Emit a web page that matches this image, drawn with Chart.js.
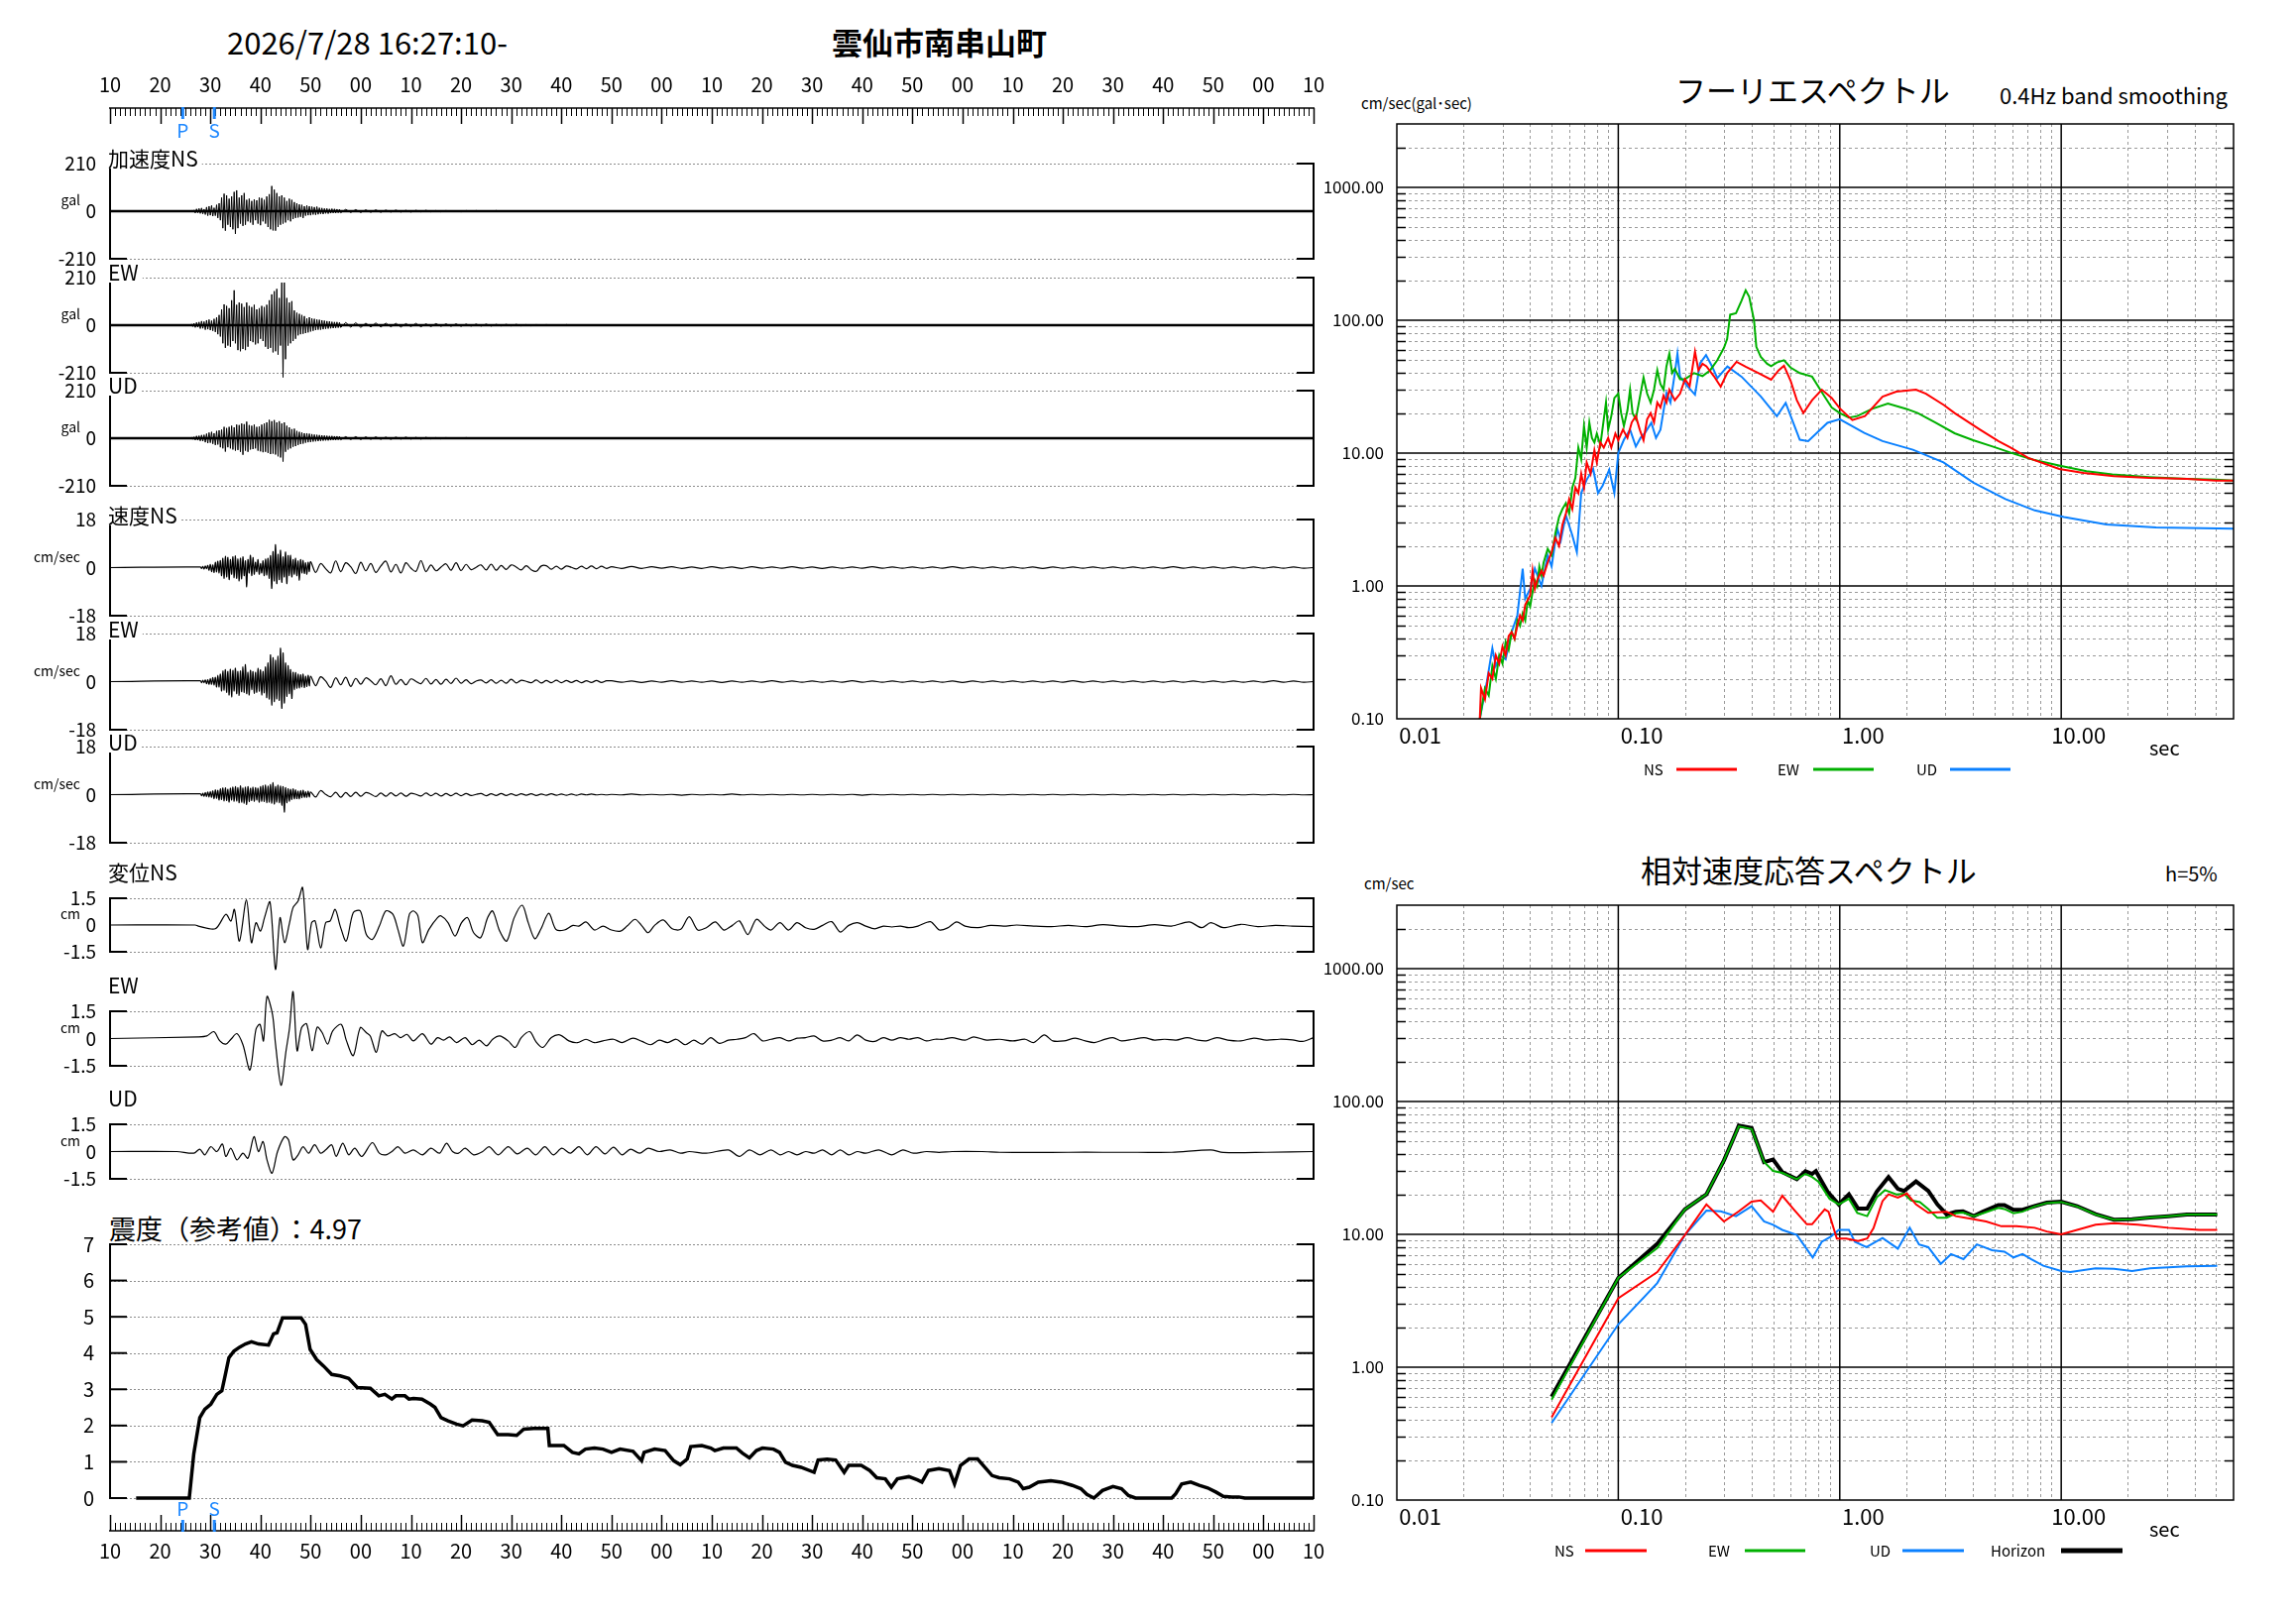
<!DOCTYPE html>
<html>
<head>
<meta charset="utf-8">
<script src="https://cdn.jsdelivr.net/npm/chart.js@4.4.1/dist/chart.umd.min.js"></script>
<style>
  body { margin: 0; background: #fff; width: 2316px; height: 1637px; overflow: hidden; position: relative; }
  canvas { position: absolute; }
  .t { position: absolute; white-space: nowrap; color: #000; line-height: 1; font-family: "Noto Sans CJK JP", "Noto Sans", sans-serif; }
</style>
</head>
<body>
<script>
// ---- time axis (seconds after 16:27:10) ----
const T_MAX = 240;
const TIME_LABELS = ["10","20","30","40","50","00","10","20","30","40","50","00","10","20","30","40","50","00","10","20","30","40","50","00","10"];
const P_TIME = 14.5;
const S_TIME = 20.8;

// ---- acceleration (gal), strong part sampled every 0.25 s from 16 s, tail every 1 s from 46 s ----
const ACC_NS = [0,3,-4,5, -8,10,-7,12, -10,14,-12,9, -15,18,-20,22, -18,25,-22,15, -20,28,-30,35,
  -40,60,-75,77, -86,70,-60,55, -70,65,-80,85, -100,92,-75,60, -55,70,-65,80, -60,50,-45,55,
  -50,45,-60,52, -40,48,-55,60, -62,58,-45,50, -55,65,-70,75, -80,111,-85,95, -86,80,-70,65,
  -60,70,-55,60, -50,45,-40,55, -45,50,-35,40, -30,35,-28,30, -25,28,-30,22, -20,25,-18,22,
  -18,20,-15,18, -16,20,-14,15, -12,14,-13,12, -10,12,-11,10, -9,11,-8,10, -8,9,-7,8];
const ACC_NS_TAIL = [-7,8,-6,7,-6,6,-5,6,-5,5,-4,5,-4,4,-4,4,-3,4,-3,3,-3,3,-2,2,-3,3,-2,3,-2,2,-2,3,-2,2,-2,2,-2,2,-2,2,-2,2,-1,2,-2,1,-1,2,-1,1,-1,1,-1,1];
const ACC_EW = [0,5,-6,8, -10,12,-9,14, -15,18,-14,16, -20,22,-18,25, -22,20,-25,28, -30,35,-40,45,
  -50,70,-80,92, -100,85,-90,75, -95,110,-70,154, -80,90,-110,100, -115,95,-105,80, -110,100,-95,85,
  -70,80,-75,90, -85,70,-80,75, -60,85,-70,80, -95,90,-105,110, -100,136,-120,150, -115,160,-130,120,
  -90,188,-230,188, -150,120,-90,100, -80,106,-70,65, -60,55,-45,50, -40,45,-38,40, -35,30,-32,35,
  -28,30,-25,28, -22,25,-20,24, -20,22,-18,20, -16,18,-15,17, -14,15,-13,14, -12,14,-11,12];
const ACC_EW_TAIL = [-10,12,-9,11,-10,9,-8,10,-8,9,-7,8,-8,7,-6,8,-7,6,-6,7,-5,6,-5,6,-5,5,-4,5,-4,5,-4,4,-3,4,-3,4,-3,3,-3,3,-2,3,-2,2,-2,3,-2,2,-2,2,-2,2,-1,2];
const ACC_UD = [0,4,-5,6, -8,10,-9,11, -12,14,-13,15, -18,20,-22,25, -20,28,-25,22, -30,32,-28,35,
  -40,38,-45,50, -59,45,-40,50, -45,55,-50,48, -55,60,-52,58, -60,65,-73,62, -55,73,-60,58,
  -50,55,-48,60, -45,50,-55,52, -58,60,-62,65, -60,70,-65,81, -70,75,-68,80, -72,70,-80,75,
  -85,65,-103,70, -60,55,-50,48, -45,40,-38,42, -35,32,-30,28, -26,25,-24,22, -20,22,-18,20,
  -17,18,-15,16, -14,15,-13,14, -12,13,-11,12, -10,11,-10,10, -9,10,-8,9, -8,9,-7,8];
const ACC_UD_TAIL = [-7,7,-6,7,-6,6,-5,6,-5,5,-5,5,-4,5,-4,4,-4,4,-3,3,-3,3,-2,2,-2,3,-2,2,-2,2,-2,2,-1,2];

// ---- velocity (cm/s): every 0.25 s from 18 s, every 1 s from 40 s, every 2 s from 100 s ----
const VEL_NS = [0.2,-0.3,0.4,-0.5, 0.6,-0.4,0.8,-1.0, 1.2,-1.5,1.0,-1.8, 2.0,-1.6,2.4,-2.0,
  2.6,-3.0,3.5,-4.0, 4.2,-3.5,3.8,-4.5, 3.0,-2.5,4.0,-3.8, 4.4,-4.0,3.2,-5.0, 3.5,-4.2,4.0,-3.0,
  2.5,-7.2,3.0,-2.0, 4.6,-3.0,3.8,-2.5, 2.0,-1.5,3.0,-2.5, 1.5,-2.0,2.5,-3.0, 3.2,-2.8,3.5,-4.0,
  4.5,-7.8,6.0,-5.0, 8.6,-6.0,5.0,-4.5, 6.5,-5.5,4.0,-3.5, 5.8,-6.0,4.5,-3.0, 4.6,-3.5,3.0,-2.5,
  3.5,-3.0,2.5,-4.7, 3.0,-2.0,2.7,-2.2, 1.8,-2.5,2.0,-1.5];
const VEL_NS_MID = [2.2,-1.8,1.5,-0.4,-2.0,2.5,-1.5,1.8,0.3,-2.2, 2.0,-1.2,1.5,-1.8,0.6,2.4,-1.6,1.2,-2.0,1.8,
  -0.2,-1.4,2.6,-1.5,1.0,-1.2,0.2,1.4,-1.0,1.8, -1.1,1.2,-0.8,0.1,1.0,-0.9,1.3,-1.0,0.8,-0.7,
  1.0,0.2,-0.9,0.7,-0.8,-1.4,0.6,0.7,-0.6,0.5, -0.6,0.6,0.1,-0.5,0.5,-0.4,0.6,-0.4,0.5,-0.3];
const VEL_NS_TAIL = [0.3,-0.3,0.4,-0.3,0.3,-0.2,0.3,-0.3,0.2,-0.3,0.3,-0.2,0.2,-0.3,0.3,-0.2,0.2,-0.2,0.3,-0.2,
  0.2,-0.3,0.2,-0.2,0.2,-0.2,0.3,-0.2,0.2,-0.2,0.2,-0.2,0.2,-0.2,0.3,-0.2,0.2,-0.2,0.2,-0.2,
  0.2,-0.2,0.2,-0.3,0.2,-0.2,0.2,-0.2,0.2,-0.2,0.2,-0.2,0.2,-0.2,0.2,-0.2,0.3,-0.2,0.2,-0.2,
  0.2,-0.2,0.2,-0.2,0.2,-0.2,0.2,-0.2,0.2,-0.2];
const VEL_EW = [0.3,-0.4,0.5,-0.4, 0.6,-0.8,0.7,-1.0, 1.2,-1.0,1.5,-1.3, 1.6,-2.0,2.4,-2.0,
  2.8,-3.5,4.0,-3.2, 4.5,-4.0,3.8,-5.0, 4.6,-5.7,4.2,-3.5, 5.0,-4.5,3.8,-5.2, 4.0,-3.8,5.5,-4.0,
  6.4,-4.5,3.5,-5.0, 4.2,-3.0,3.8,-4.4, 3.5,-4.0,5.0,-3.6, 4.4,-5.0,3.8,-4.2, 5.5,-6.0,7.0,-6.5,
  10.0,-8.8,9.0,-7.5, 8.0,-6.5,9.5,-7.0, 12.5,-10.0,10.7,-8.0, 7.0,-5.5,6.0,-4.5, 4.5,-6.3,3.5,-3.0,
  3.4,-2.5,2.8,-2.4, 2.6,-2.0,2.8,-2.2, 2.0,-1.8,2.4,-1.6];
const VEL_EW_MID = [2.0,-1.5,1.8,0.2,-2.2,1.4,-1.2,1.6,-1.8,1.2, -1.0,1.4,0.3,-1.2,1.1,-1.5,2.2,-1.0,0.8,-1.2,
  1.0,0.1,-0.8,1.2,-0.9,0.8,-1.0,0.9,-0.7,1.3, -0.6,0.7,-0.8,0.2,0.6,-0.5,0.7,-0.6,0.5,-0.6,
  0.9,-0.5,0.5,0.1,-0.4,0.6,-0.5,0.4,-0.4,0.5, -0.4,0.4,-0.3,0.4,-0.4,0.3,-0.3,0.4,-0.3,0.3];
const VEL_EW_TAIL = [0.3,-0.2,0.2,-0.3,0.2,-0.2,0.3,-0.2,0.2,-0.2,0.2,-0.3,0.2,-0.2,0.2,-0.2,0.3,-0.2,0.2,-0.2,
  0.2,-0.2,0.2,-0.2,0.3,-0.2,0.2,-0.2,0.2,-0.2,0.2,-0.2,0.2,-0.2,0.2,-0.3,0.2,-0.2,0.2,-0.2,
  0.2,-0.2,0.2,-0.2,0.2,-0.2,0.3,-0.2,0.2,-0.2,0.2,-0.2,0.2,-0.2,0.2,-0.2,0.2,-0.2,0.2,-0.2,
  0.2,-0.2,0.2,-0.2,0.2,-0.2,0.3,-0.2,0.2,-0.2];
const VEL_UD = [0.3,-0.4,0.5,-0.6, 0.8,-0.7,1.0,-0.9, 1.2,-1.0,1.4,-1.5, 1.8,-1.4,1.6,-2.0,
  2.2,-1.8,2.5,-2.4, 2.6,-2.2,2.0,-2.8, 2.4,-2.0,2.8,-2.5, 3.0,-2.4,2.6,-3.0, 3.3,-2.8,2.5,-3.2,
  2.8,-3.7,3.0,-2.6, 2.4,-2.2,2.8,-2.5, 2.6,-2.0,2.4,-2.8, 3.0,-2.5,3.4,-2.6, 3.6,-3.0,3.2,-2.8,
  3.8,-3.2,4.5,-3.5, 3.0,-2.8,3.6,-3.0, 3.2,-4.0,3.0,-6.5, 2.6,-3.0,2.2,-2.5, 2.0,-1.8,2.2,-1.6,
  1.8,-1.5,1.4,-1.6, 1.5,-1.2,1.6,-1.0, 1.2,-1.0,1.4,-0.9];
const VEL_UD_MID = [1.0,-0.9,1.5,0.1,-0.8,0.9,-1.0,0.8,-0.7,0.9, -0.6,0.8,0.2,-0.7,0.6,-0.6,0.7,-0.5,0.6,-0.6,
  0.5,0.1,-0.5,0.6,-0.4,0.5,-0.5,0.4,-0.4,0.5, -0.4,0.4,-0.3,0.1,0.4,-0.4,0.3,-0.3,0.4,-0.3,
  0.3,-0.3,0.3,-0.2,0.3,-0.3,0.2,-0.2,0.3,-0.2, 0.2,-0.2,0.2,-0.2,0.2,-0.1,0.2,-0.1,0.1,-0.1];
const VEL_UD_TAIL = [0.1,-0.1,0.2,-0.1,0.1,-0.1,0.1,-0.2,0.1,-0.1,0.1,-0.1,0.2,-0.1,0.1,-0.1,0.1,-0.1,0.1,-0.1,
  0.1,-0.1,0.1,-0.1,0.1,-0.2,0.1,-0.1,0.1,-0.1,0.1,-0.1,0.1,-0.1,0.1,-0.1,0.1,-0.1,0.1,-0.1,
  0.1,-0.1,0.1,-0.1,0.1,-0.1,0.1,-0.1,0.1,-0.1,0.1,-0.1,0.1,-0.1,0.1,-0.1,0.1,-0.1,0.1,-0.1,
  0.1,-0.1,0.1,-0.1,0.1,-0.1,0.1,-0.1,0.1,-0.1];

// ---- displacement (cm): [seconds, value] ----
const DISP_NS = [[0,0],[17,0],[17.6,-0.06],[21.0,-0.21],[23.1,0.60],[24.1,0.22],[24.8,0.88],[25.8,-0.90],[27.2,1.41],[28.2,-0.99],[29.1,0.13],[30.0,-0.34],[30.8,0.41],[31.9,1.29],[33.0,-2.49],[33.9,0.41],[34.8,-0.99],[35.8,0.13],[36.5,0.98],[37.5,1.35],[38.4,2.10],[39.4,-1.37],[40.2,0.13],[40.9,0.23],[42.0,-1.28],[43.0,0.13],[43.9,0.23],[44.9,0.88],[45.9,-0.06],[47.1,-0.90],[48.5,0.69],[49.9,0.79],[51.1,-0.53],[52.3,-0.81],[53.7,-0.06],[55.0,0.79],[56.4,0.60],[57.4,-0.24],[58.5,-1.18],[59.7,0.60],[60.5,0.79],[61.4,0.51],[62.3,-0.99],[63.6,-0.24],[65.3,0.41],[66.0,0.51],[67.4,0.13],[68.8,-0.62],[70.1,0.13],[71.3,0.41],[72.5,-0.43],[73.9,-0.71],[75.3,0.41],[76.3,0.79],[77.7,-0.34],[79.1,-0.90],[80.6,0.41],[82.2,1.11],[83.4,0.13],[84.7,-0.77],[85.9,-0.24],[87.5,0.66],[88.9,-0.24],[90.6,-0.28],[92.3,-0.02],[93.5,-0.06],[94.9,0.17],[96.6,-0.28],[98.3,-0.06],[100.0,-0.28],[101.8,-0.34],[103.1,-0.06],[104.7,0.32],[106.1,-0.06],[107.3,-0.43],[108.6,-0.02],[110.3,0.28],[112.1,-0.21],[113.8,-0.24],[115.5,0.47],[117.2,-0.28],[118.9,-0.15],[120.7,0.17],[122.4,-0.28],[124.1,-0.02],[125.5,0.23],[127.2,-0.53],[128.9,0.32],[130.6,-0.09],[131.8,-0.28],[133.6,0.13],[135.3,-0.28],[137.0,0.13],[138.7,-0.15],[140.4,-0.24],[142.1,-0.02],[143.9,0.19],[145.6,-0.39],[147.3,-0.02],[149.0,0.13],[150.7,-0.06],[152.5,-0.21],[154.2,-0.06],[155.9,-0.11],[157.6,-0.06],[159.3,-0.15],[161.1,-0.06],[163.6,0.19],[165.4,-0.28],[167.1,-0.15],[168.8,0.17],[170.5,-0.06],[173.1,-0.15],[175.6,-0.02],[178.2,-0.06],[180.8,0],[184.2,-0.06],[187.7,-0.09],[191.1,-0.02],[194.6,-0.09],[198.0,0.02],[201.4,-0.06],[204.9,-0.09],[208.3,0.02],[211.7,-0.06],[215.2,0.17],[217.7,-0.15],[219.5,0.13],[222.0,-0.15],[225.5,0.04],[228.9,-0.09],[232.4,-0.02],[235.8,-0.06],[240,-0.09]];
const DISP_EW = [[0,0],[17.6,0.09],[19.3,0.14],[20.7,0.38],[21.9,-0.13],[23.1,-0.31],[24.1,-0.04],[25.3,0.27],[26.5,-0.34],[27.9,-1.73],[29.1,0.51],[29.9,0.78],[30.6,-0.13],[31.3,2.31],[32.4,1.32],[33.0,-0.31],[34.1,-2.57],[35.1,-0.67],[35.8,0.60],[36.5,2.58],[37.3,-0.67],[38.2,0.60],[39.2,0.81],[40.3,-0.67],[41.3,0.63],[42.3,0.33],[43.4,-0.31],[44.4,0.42],[46.1,0.78],[47.1,-0.09],[48.5,-0.94],[49.9,0.60],[51.1,0.33],[51.9,0.14],[53.1,-0.76],[54.2,0.42],[55.4,0.14],[56.8,0.27],[57.9,0.05],[59.2,0.23],[60.5,-0.13],[62.3,0.27],[64.0,-0.31],[65.3,0.05],[66.5,-0.09],[67.7,0.09],[69.1,-0.22],[70.8,0.05],[72.2,-0.34],[73.6,-0.09],[75.1,-0.40],[76.3,-0.04],[77.7,0.14],[79.4,-0.13],[80.8,-0.49],[82.0,0.05],[83.7,0.38],[84.9,-0.16],[86.3,-0.49],[88.0,0.05],[89.7,0.20],[91.5,-0.13],[93.2,-0.23],[94.9,-0.04],[96.6,-0.23],[98.3,-0.13],[100.4,-0.04],[102.1,-0.22],[104.3,0.02],[106.1,-0.16],[107.8,-0.34],[109.5,-0.09],[111.2,-0.22],[112.9,-0.04],[114.7,-0.34],[116.4,-0.09],[118.1,-0.31],[119.8,0.05],[121.5,-0.27],[123.3,-0.09],[125.0,-0.04],[126.7,0.05],[128.4,0.27],[130.1,-0.13],[131.8,-0.04],[133.6,0.05],[135.3,-0.13],[137.0,0.02],[138.7,0.05],[140.4,0.14],[142.1,-0.13],[143.9,-0.09],[145.6,0.05],[147.3,-0.13],[149.0,0.20],[150.7,-0.09],[152.5,-0.16],[154.2,0.05],[155.9,-0.09],[157.6,0.05],[159.3,-0.04],[161.1,0.05],[162.8,-0.13],[164.5,-0.04],[166.2,-0.04],[167.9,0.05],[170.5,-0.09],[172.2,0.09],[174.8,-0.09],[177.4,-0.04],[180.0,-0.13],[182.5,-0.04],[184.2,-0.22],[186.3,0.20],[188.0,-0.13],[190.2,-0.13],[192.5,0.02],[194.5,-0.13],[196.3,-0.22],[198.3,-0.05],[200.0,0.05],[201.7,-0.13],[204.0,-0.04],[206.2,0.05],[208.3,-0.09],[210.3,-0.04],[212.6,-0.09],[214.8,0.05],[216.9,-0.09],[218.6,-0.13],[220.7,0.05],[222.9,-0.09],[225.5,-0.13],[228.1,0.02],[230.6,-0.09],[233.2,-0.04],[235.8,-0.07],[237.8,-0.16],[240,0.05]];
const DISP_UD = [[0,0],[13.3,0],[16.7,-0.09],[17.9,0.13],[18.9,-0.18],[20.1,0.27],[21.3,0],[22.4,0.42],[23.1,-0.27],[24.1,0.18],[25.3,-0.46],[26.5,-0.09],[27.5,-0.37],[28.7,0.82],[29.6,0],[30.5,0.55],[31.3,-0.46],[32.3,-1.19],[33.4,0],[34.8,0.82],[35.6,0.64],[36.5,-0.46],[37.5,-0.18],[38.5,0.27],[39.6,-0.09],[40.8,0.37],[42.0,-0.09],[43.0,0.09],[44.2,0.37],[45.1,-0.27],[46.4,0.46],[47.6,-0.18],[48.8,0.18],[50.2,-0.27],[52.3,0.49],[53.7,-0.09],[55.0,-0.18],[56.2,0],[57.4,0.27],[58.8,-0.09],[60.5,0.09],[62.3,-0.18],[64.0,0.18],[65.7,-0.09],[67.1,0.46],[68.3,0],[69.5,-0.09],[70.8,0.18],[72.5,-0.18],[74.3,0],[75.6,0.27],[77.4,-0.18],[79.4,0.27],[81.2,-0.13],[83.2,0.18],[84.9,-0.18],[86.7,0.27],[88.4,-0.18],[90.1,0.18],[91.8,-0.09],[93.5,0.27],[95.2,-0.18],[96.9,0.27],[98.7,-0.13],[100.4,0.24],[102.1,-0.18],[103.8,0.13],[105.6,-0.09],[107.3,0.18],[109.5,0],[111.7,0.09],[113.8,-0.09],[115.5,0],[118.9,-0.09],[123.3,0.09],[125.5,-0.27],[127.5,0.09],[129.6,-0.18],[131.8,0.09],[133.6,-0.18],[135.3,0],[137.0,-0.18],[138.7,0],[140.4,-0.09],[142.1,0.09],[143.9,-0.18],[145.6,0.09],[147.3,-0.18],[149.0,0],[150.7,-0.09],[153.3,0.09],[155.9,-0.18],[158.1,0.09],[160.2,-0.09],[162.8,0],[165.3,-0.05],[167.9,0],[173.9,0],[177.4,-0.04],[184.2,-0.05],[191.1,-0.04],[198.0,-0.04],[204.9,-0.04],[211.7,-0.04],[219.5,0.09],[222.0,-0.05],[230.6,-0.04],[240,0]];

// ---- seismic intensity (reference value) ----
const SHINDO = [[5.2,0],[15.8,0],[16.7,1.22],[17.9,2.22],[18.9,2.45],[20.1,2.59],[21.3,2.86],[22.3,2.96],[23.0,3.41],[23.7,3.87],[24.7,4.05],[25.8,4.16],[27.0,4.25],[28.2,4.31],[29.6,4.25],[31.6,4.22],[32.6,4.53],[33.3,4.56],[34.4,4.97],[38.1,4.97],[39.0,4.79],[39.9,4.10],[41.2,3.82],[42.6,3.64],[44.2,3.41],[45.9,3.37],[47.6,3.30],[49.3,3.05],[51.9,3.03],[53.6,2.82],[54.8,2.86],[56.2,2.73],[57.0,2.82],[58.8,2.82],[59.6,2.73],[60.5,2.75],[62.2,2.73],[63.9,2.59],[64.8,2.50],[66.0,2.22],[67.4,2.13],[69.1,2.04],[70.4,1.99],[72.2,2.15],[74.2,2.13],[75.6,2.09],[77.3,1.75],[79.4,1.75],[81.1,1.73],[82.5,1.90],[84.5,1.92],[87.3,1.92],[87.6,1.45],[90.5,1.45],[92.2,1.26],[93.5,1.22],[94.8,1.35],[96.6,1.38],[98.3,1.35],[100.0,1.26],[101.7,1.35],[104.3,1.29],[106.0,1.03],[106.5,1.26],[108.6,1.35],[110.7,1.31],[112.4,1.03],[113.7,0.92],[115.1,1.08],[115.8,1.42],[118.0,1.45],[119.8,1.38],[120.6,1.31],[122.3,1.38],[124.9,1.38],[126.1,1.24],[127.5,1.11],[128.9,1.31],[130.1,1.38],[132.3,1.35],[133.5,1.26],[134.7,0.99],[136.1,0.90],[137.8,0.85],[140.4,0.71],[141.2,1.05],[143.0,1.07],[144.7,1.05],[146.4,0.71],[147.3,0.90],[149.8,0.90],[151.5,0.76],[152.9,0.56],[154.6,0.53],[155.8,0.30],[157.0,0.53],[159.3,0.59],[161.0,0.50],[161.9,0.44],[163.2,0.76],[165.3,0.81],[167.4,0.76],[168.4,0.39],[169.6,0.90],[171.3,1.08],[173.0,1.08],[174.7,0.81],[175.9,0.62],[177.3,0.56],[179.4,0.53],[181.1,0.44],[182.1,0.26],[183.3,0.30],[185.1,0.44],[187.6,0.48],[189.7,0.44],[191.9,0.35],[193.6,0.26],[194.8,0.10],[196.2,0],[197.9,0.21],[200.0,0.32],[201.7,0.26],[203.1,0.07],[204.5,0],[211.7,0],[212.5,0.12],[213.7,0.39],[215.5,0.44],[217.2,0.35],[218.9,0.28],[220.6,0.16],[222.0,0.05],[223.7,0.03],[225.1,0.03],[226.3,0],[240,0]];

// ---- Fourier spectrum [period s, cm/s] ----
const FOURIER_NS = [[0.0237,0.1],[0.024,0.17],[0.025,0.14],[0.026,0.22],[0.027,0.2],[0.028,0.3],[0.029,0.26],[0.03,0.35],[0.031,0.3],[0.032,0.42],[0.033,0.45],[0.034,0.4],[0.035,0.5],[0.036,0.6],[0.037,0.55],[0.038,0.72],[0.04,0.85],[0.041,1.3],[0.042,0.95],[0.043,1.1],[0.045,1.3],[0.046,1.2],[0.048,1.5],[0.05,1.8],[0.052,2.3],[0.054,2.0],[0.056,2.9],[0.058,3.5],[0.06,4.5],[0.062,3.8],[0.064,5.5],[0.066,5.0],[0.068,7.0],[0.07,5.5],[0.072,8.5],[0.075,7.0],[0.078,10.5],[0.08,8.5],[0.083,12],[0.086,11],[0.09,13],[0.093,11],[0.097,14],[0.1,12.5],[0.105,15],[0.11,13],[0.115,17],[0.12,19],[0.125,15],[0.13,12.5],[0.135,18],[0.14,20],[0.145,17],[0.15,24],[0.155,22],[0.16,27],[0.165,24],[0.17,30],[0.18,25],[0.19,28],[0.2,36],[0.21,32],[0.222,58],[0.23,42],[0.24,47],[0.25,45],[0.27,38],[0.29,31.6],[0.31,40],[0.342,48.6],[0.376,44.6],[0.43,40],[0.49,35.7],[0.53,42],[0.56,45.4],[0.6,35],[0.64,25],[0.685,20],[0.75,25],[0.83,30],[0.92,26],[1.0,21.7],[1.14,17.7],[1.3,19],[1.56,26.6],[1.8,29],[2.21,30],[2.45,28],[2.95,23],[3.3,20],[4.3,15],[5.2,12.3],[5.9,11],[7.1,9.2],[9.8,7.6],[12.6,7.1],[17.3,6.7],[25,6.5],[37,6.4],[50,6.2],[60,6.2]];
const FOURIER_EW = [[0.0237,0.1],[0.025,0.17],[0.026,0.15],[0.027,0.25],[0.028,0.2],[0.029,0.3],[0.03,0.26],[0.031,0.38],[0.032,0.33],[0.033,0.45],[0.034,0.4],[0.035,0.55],[0.036,0.5],[0.037,0.62],[0.038,0.55],[0.039,0.78],[0.04,0.7],[0.041,0.9],[0.042,1.1],[0.043,1.0],[0.044,1.4],[0.045,1.2],[0.046,1.5],[0.048,1.9],[0.05,1.7],[0.052,2.5],[0.054,3.3],[0.056,3.8],[0.058,4.2],[0.06,3.5],[0.062,5.5],[0.064,6.5],[0.066,11],[0.068,9],[0.07,16],[0.072,11],[0.074,17],[0.076,13],[0.078,12],[0.08,14],[0.083,11.5],[0.086,18],[0.088,24],[0.09,15],[0.093,19],[0.096,26],[0.1,28],[0.103,20],[0.106,16],[0.11,21],[0.113,30],[0.116,20],[0.12,18],[0.125,26],[0.13,37],[0.135,28],[0.14,24],[0.145,30],[0.15,42],[0.155,33],[0.16,30],[0.165,45],[0.17,56],[0.175,40],[0.18,43],[0.19,36],[0.2,36],[0.22,40],[0.24,38],[0.26,42],[0.28,50],[0.3,62],[0.31,72],[0.32,110],[0.34,113],[0.36,140],[0.376,168],[0.39,150],[0.41,100],[0.42,63],[0.44,53],[0.47,47],[0.49,45],[0.52,48],[0.56,50],[0.6,44],[0.66,40],[0.75,37.6],[0.85,27],[0.92,22],[1.0,20],[1.1,18.5],[1.2,19],[1.4,21.5],[1.65,23.6],[2.0,21.5],[2.25,20],[2.7,17],[3.3,14.1],[4.0,12.5],[4.9,11.2],[6.2,9.8],[7.5,8.9],[10,8.0],[13,7.3],[17,6.9],[25,6.6],[37,6.4],[50,6.3],[60,6.2]];
const FOURIER_UD = [[0.0237,0.1],[0.0255,0.19],[0.027,0.34],[0.028,0.25],[0.0293,0.3],[0.031,0.28],[0.033,0.45],[0.035,0.6],[0.037,1.35],[0.038,0.8],[0.04,0.95],[0.042,1.35],[0.045,1.0],[0.048,1.7],[0.05,1.4],[0.053,2.7],[0.055,2.2],[0.058,3.4],[0.062,2.4],[0.065,1.8],[0.068,5],[0.072,6.3],[0.077,7.6],[0.081,5.0],[0.085,5.7],[0.091,7.5],[0.096,5.0],[0.1,10],[0.106,12.6],[0.113,15],[0.12,11.2],[0.126,13],[0.132,14.2],[0.141,16.9],[0.148,13],[0.155,15],[0.165,28.3],[0.172,24],[0.18,39.9],[0.185,56],[0.19,37.6],[0.206,31.7],[0.222,27.5],[0.234,47.4],[0.249,54.7],[0.265,45],[0.28,36.6],[0.311,44.8],[0.36,37.6],[0.44,26.7],[0.52,18.9],[0.57,23.8],[0.66,12.6],[0.72,12.3],[0.88,16.9],[1.0,18.0],[1.29,14.2],[1.56,12.3],[2.14,10.6],[2.94,8.5],[4.0,6.0],[5.6,4.5],[7.6,3.7],[10.3,3.3],[16,2.9],[26.8,2.76],[60,2.7]];

// ---- relative velocity response spectrum h=5% [period s, cm/s] ----
const RESP_NS = [[0.05,0.42],[0.1,3.3],[0.15,5.2],[0.2,9.9],[0.25,16.8],[0.3,12.5],[0.35,14.9],[0.4,17.6],[0.44,18],[0.5,14.8],[0.55,19.5],[0.62,15.4],[0.71,11.9],[0.75,11.9],[0.855,15.4],[0.89,14.8],[0.97,9.3],[1.07,9.3],[1.21,8.9],[1.33,9.3],[1.42,11.1],[1.56,17.8],[1.66,20],[1.83,18.9],[2.01,20.3],[2.21,16.8],[2.51,14.5],[3.04,14.8],[3.34,13.7],[3.91,13.1],[4.58,12.5],[5.37,11.5],[6.28,11.5],[7.59,11.2],[8.61,10.5],[10,10],[11.8,10.8],[14.3,11.8],[17.3,12.1],[22.2,11.8],[30.5,11.2],[41.9,10.8],[50.6,10.8]];
const RESP_EW = [[0.05,0.57],[0.1,4.7],[0.15,7.9],[0.2,15.4],[0.25,20],[0.3,36],[0.35,65],[0.4,62],[0.455,35],[0.5,30],[0.55,29],[0.64,26],[0.7,28.5],[0.75,27],[0.8,25],[0.9,18.5],[0.99,16.8],[1.1,18.5],[1.2,14.5],[1.33,13.7],[1.47,19],[1.6,21.5],[1.8,20],[1.95,20.2],[2.1,18],[2.3,17.5],[2.51,15.5],[2.76,13.3],[3.04,13.3],[3.34,14.4],[3.6,14.6],[4.03,13.7],[4.43,14.4],[5.2,15.8],[5.54,15.5],[6.09,14.4],[6.69,14.8],[7.59,16.2],[8.61,17.2],[10,17.5],[11.8,16.2],[14.3,14.1],[17.3,12.9],[20.9,13],[25.2,13.4],[30.5,13.7],[36.9,14.1],[50.6,14.1]];
const RESP_UD = [[0.05,0.38],[0.1,2.1],[0.15,4.3],[0.2,9.9],[0.25,15.1],[0.29,14.9],[0.34,13.7],[0.4,16.3],[0.455,12.5],[0.5,11.8],[0.55,10.8],[0.64,9.9],[0.755,6.7],[0.83,8.8],[0.91,9.6],[0.99,10.8],[1.1,10.8],[1.17,8.8],[1.32,8.0],[1.56,9.4],[1.83,7.8],[2.07,11.2],[2.28,8.4],[2.51,8.0],[2.86,6.0],[3.18,7.1],[3.62,6.5],[4.16,8.4],[4.87,7.6],[5.54,7.4],[6.09,6.7],[6.69,7.1],[7.33,6.5],[8.3,5.8],[10,5.3],[11,5.2],[14.3,5.55],[17.3,5.5],[20.9,5.3],[25.2,5.55],[36.9,5.75],[50.6,5.8]];
const RESP_H = [[0.05,0.60],[0.1,4.7],[0.15,8.5],[0.2,15.4],[0.25,20],[0.3,36],[0.33,52],[0.35,65.8],[0.4,63],[0.455,35],[0.5,36.6],[0.55,29.4],[0.64,26],[0.7,29.9],[0.75,28.5],[0.78,29.9],[0.88,21],[0.99,16.8],[1.1,20],[1.21,15.6],[1.33,15.6],[1.47,21],[1.66,27],[1.83,22],[1.95,21.2],[2.21,25],[2.51,21.2],[2.76,16.8],[3.04,14.1],[3.34,14.8],[3.6,14.9],[4.03,13.7],[4.43,14.8],[5.2,16.6],[5.54,16.6],[6.09,15.3],[6.69,15.3],[7.59,16.3],[8.61,17.3],[10,17.6],[11.8,16.3],[14.3,14.2],[17.3,12.9],[20.9,13],[25.2,13.4],[30.5,13.7],[36.9,14.1],[50.6,14.1]];

const X_DECADES = [0.01, 0.1, 1, 10];
const X_TICK_LABELS = ["0.01", "0.10", "1.00", "10.00"];
const Y_DECADES = [0.1, 1, 10, 100, 1000];
const Y_TICK_LABELS = ["0.10", "1.00", "10.00", "100.00", "1000.00"];
const MINOR = [2, 3, 4, 5, 6, 7, 8, 9];

// ---------------------------------------------------------------
const FONT = '"Noto Sans CJK JP", "Noto Sans", sans-serif';
const RED = "#ff0000", GREEN = "#00b000", BLUE = "#0a80ff", PSBLUE = "#1e88ff";

function seg(ctx, x1, y1, x2, y2) { ctx.beginPath(); ctx.moveTo(x1, y1); ctx.lineTo(x2, y2); ctx.stroke(); }

function addText(txt, x, cy, size, extra) {
  const d = document.createElement("div");
  d.className = "t";
  d.textContent = txt;
  d.style.left = x + "px";
  d.style.top = (cy - size * 0.52) + "px";
  d.style.fontSize = size + "px";
  if (extra) Object.assign(d.style, extra);
  document.body.appendChild(d);
}

function makeCanvas(area, pad) {
  const c = document.createElement("canvas");
  const w = area.w + pad.l + pad.r, h = area.h + pad.t + pad.b;
  c.width = w; c.height = h;
  c.style.left = (area.x - pad.l) + "px";
  c.style.top = (area.y - pad.t) + "px";
  c.style.width = w + "px"; c.style.height = h + "px";
  document.body.appendChild(c);
  return c;
}

function burst(t0, dt, vals) { return vals.map((v, i) => ({ x: t0 + i * dt, y: v })); }
function trace(parts) {
  const pts = [{ x: 0, y: 0 }];
  parts.forEach(p => pts.push(...p));
  pts.push({ x: T_MAX, y: 0 });
  return pts;
}
function pairs(arr) { return arr.map(([x, y]) => ({ x, y })); }

// waveform / intensity panel frame, dotted limits, brackets and labels
const wavePlugin = {
  id: "wave",
  beforeDatasetsDraw(chart, args, o) {
    const { ctx, chartArea: a, scales: { y } } = chart;
    ctx.save();
    ctx.strokeStyle = "#8c8c8c"; ctx.lineWidth = 1; ctx.setLineDash([2, 2]);
    o.grid.forEach(v => { const py = Math.round(y.getPixelForValue(v)) + 0.5; seg(ctx, a.left, py, a.right, py); });
    ctx.setLineDash([]);
    if (o.zeroWidth) {
      ctx.strokeStyle = "#000"; ctx.lineWidth = o.zeroWidth;
      const py = y.getPixelForValue(0); seg(ctx, a.left, py, a.right, py);
    }
    ctx.restore();
  },
  afterDatasetsDraw(chart, args, o) {
    const { ctx, chartArea: a, scales: { y } } = chart;
    const top = y.getPixelForValue(o.grid[0]), bot = y.getPixelForValue(o.grid[o.grid.length - 1]);
    ctx.save();
    ctx.strokeStyle = "#000"; ctx.lineWidth = 2;
    seg(ctx, a.left, top, a.left, bot);
    seg(ctx, a.right, top, a.right, bot);
    o.grid.forEach(v => {
      const py = y.getPixelForValue(v);
      seg(ctx, a.left - 1, py, a.left + 17, py);
      seg(ctx, a.right - 17, py, a.right + 1, py);
    });
    ctx.fillStyle = "#000"; ctx.textAlign = "right"; ctx.textBaseline = "middle";
    ctx.font = `${o.tickSize}px ${FONT}`;
    o.ticks.forEach((v, i) => ctx.fillText(o.tickText[i], a.left - o.tickGap, y.getPixelForValue(v)));
    if (o.unit) {
      ctx.font = `14px ${FONT}`;
      ctx.fillText(o.unit, a.left - 30, y.getPixelForValue(0) - 11);
    }
    if (o.name) {
      ctx.font = `21px ${FONT}`; ctx.textAlign = "left";
      const w = ctx.measureText(o.name).width;
      const ny = top + o.nameDy;
      ctx.fillStyle = "#fff"; ctx.fillRect(a.left - 2, ny - 11, w + 4, 21);
      ctx.fillStyle = "#000"; ctx.fillText(o.name, a.left - 2, ny);
    }
    ctx.restore();
  }
};

const LEFT = 111, RIGHT = 1325;

function wavePanel(top, h, data, o) {
  const area = { x: LEFT, y: top, w: RIGHT - LEFT, h };
  const pad = { l: LEFT, r: 30, t: 42, b: 30 };
  const cv = makeCanvas(area, pad);
  return new Chart(cv, {
    type: "line",
    data: { datasets: [{ data, borderColor: "#000", borderWidth: o.lw, pointRadius: 0, tension: o.smooth || 0, fill: false, clip: false }] },
    options: {
      responsive: false, animation: false, events: [],
      layout: { padding: { left: pad.l, right: pad.r, top: pad.t, bottom: pad.b } },
      scales: {
        x: { type: "linear", min: 0, max: T_MAX, display: false },
        y: { type: "linear", min: o.min, max: o.max, display: false }
      },
      plugins: { legend: { display: false }, tooltip: { enabled: false }, wave: o }
    },
    plugins: [wavePlugin]
  });
}

// time ruler with P / S marks
const rulerPlugin = {
  id: "ruler",
  afterDraw(chart, args, o) {
    const { ctx, chartArea: a, scales: { x } } = chart;
    const base = o.up ? a.bottom : a.top, dir = o.up ? -1 : 1;
    ctx.save();
    ctx.strokeStyle = "#000"; ctx.lineWidth = 1.5;
    seg(ctx, x.getPixelForValue(0) - 1, base, x.getPixelForValue(T_MAX) + 1, base);
    for (let s = 0; s <= T_MAX; s++) {
      const px = Math.round(x.getPixelForValue(s)) + 0.5;
      const major = s % 10 === 0;
      ctx.lineWidth = major ? 1.5 : 1;
      seg(ctx, px, base, px, base + dir * (major ? 16 : 8));
    }
    ctx.fillStyle = "#000"; ctx.font = `20px ${FONT}`; ctx.textAlign = "center"; ctx.textBaseline = "middle";
    TIME_LABELS.forEach((lab, i) => ctx.fillText(lab, x.getPixelForValue(i * 10), base + o.labelDy));
    ctx.strokeStyle = PSBLUE; ctx.fillStyle = PSBLUE; ctx.lineWidth = 3;
    ctx.font = `19px ${FONT}`;
    [["P", P_TIME], ["S", S_TIME]].forEach(([k, t]) => {
      const px = x.getPixelForValue(t);
      seg(ctx, px, base - dir, px, base + dir * 11);
      ctx.fillText(k, px, base + o.letterDy);
    });
    ctx.restore();
  }
};

function ruler(top, o) {
  const area = { x: LEFT, y: top, w: RIGHT - LEFT, h: 16 };
  const pad = { l: 40, r: 40, t: 40, b: 40 };
  const cv = makeCanvas(area, pad);
  return new Chart(cv, {
    type: "line",
    data: { datasets: [] },
    options: {
      responsive: false, animation: false, events: [],
      layout: { padding: { left: pad.l, right: pad.r, top: pad.t, bottom: pad.b } },
      scales: { x: { type: "linear", min: 0, max: T_MAX, display: false }, y: { display: false } },
      plugins: { legend: { display: false }, tooltip: { enabled: false }, ruler: o }
    },
    plugins: [rulerPlugin]
  });
}

// log-log spectrum panel
const specPlugin = {
  id: "spec",
  beforeDatasetsDraw(chart, args, o) {
    const { ctx, chartArea: a, scales: { x, y } } = chart;
    ctx.save();
    const xs = [], ys = [];
    X_DECADES.forEach(d => MINOR.forEach(m => { if (d * m < x.max) xs.push(d * m); }));
    Y_DECADES.forEach(d => MINOR.forEach(m => { if (d * m < y.max) ys.push(d * m); }));
    ctx.strokeStyle = "#9a9a9a"; ctx.lineWidth = 1; ctx.setLineDash([3, 3]);
    xs.forEach(v => { const px = Math.round(x.getPixelForValue(v)) + 0.5; seg(ctx, px, a.top, px, a.bottom); });
    ys.forEach(v => { const py = Math.round(y.getPixelForValue(v)) + 0.5; seg(ctx, a.left, py, a.right, py); });
    ctx.setLineDash([]);
    ctx.strokeStyle = "#000"; ctx.lineWidth = 1.5;
    ys.forEach(v => {
      const py = Math.round(y.getPixelForValue(v)) + 0.5;
      seg(ctx, a.left, py, a.left + 9, py); seg(ctx, a.right - 9, py, a.right, py);
    });
    X_DECADES.slice(1).forEach(v => { const px = x.getPixelForValue(v); seg(ctx, px, a.top, px, a.bottom); });
    Y_DECADES.slice(1).forEach(v => { const py = y.getPixelForValue(v); seg(ctx, a.left, py, a.right, py); });
    ctx.restore();
  },
  afterDatasetsDraw(chart, args, o) {
    const { ctx, chartArea: a, scales: { x, y } } = chart;
    ctx.save();
    ctx.strokeStyle = "#000"; ctx.lineWidth = 1.5;
    ctx.strokeRect(a.left, a.top, a.right - a.left, a.bottom - a.top);
    ctx.fillStyle = "#000"; ctx.textBaseline = "middle";
    ctx.font = `17px ${FONT}`; ctx.textAlign = "right";
    Y_DECADES.forEach((v, i) => ctx.fillText(Y_TICK_LABELS[i], a.left - 13, y.getPixelForValue(v)));
    ctx.font = `22px ${FONT}`;
    X_DECADES.forEach((v, i) => ctx.fillText(X_TICK_LABELS[i], x.getPixelForValue(v) + 45, a.bottom + 17));
    ctx.textAlign = "left"; ctx.font = `20px ${FONT}`;
    ctx.fillText("sec", a.left + 759, a.bottom + 29);
    ctx.font = `15px ${FONT}`;
    const ly = a.bottom + 51;
    chart.data.datasets.forEach((ds, i) => {
      const L = o.legend[i];
      ctx.fillStyle = "#000"; ctx.fillText(ds.label, a.left + L[0], ly);
      ctx.strokeStyle = ds.borderColor; ctx.lineWidth = ds.borderWidth + 1;
      seg(ctx, a.left + L[1], ly, a.left + L[2], ly);
    });
    ctx.restore();
  }
};

function specPanel(top, datasets, legend) {
  const area = { x: 1409, y: top, w: 844, h: 600 };
  const pad = { l: 100, r: 60, t: 20, b: 75 };
  const cv = makeCanvas(area, pad);
  return new Chart(cv, {
    type: "line",
    data: { datasets: datasets.map(d => ({ label: d.label, data: pairs(d.data), borderColor: d.color, borderWidth: d.w, pointRadius: 0, tension: 0, fill: false })) },
    options: {
      responsive: false, animation: false, events: [],
      layout: { padding: { left: pad.l, right: pad.r, top: pad.t, bottom: pad.b } },
      scales: {
        x: { type: "logarithmic", min: 0.01, max: 60, bounds: "data", display: false },
        y: { type: "logarithmic", min: 0.1, max: 3000, bounds: "data", display: false }
      },
      plugins: { legend: { display: false }, tooltip: { enabled: false }, spec: { legend } }
    },
    plugins: [specPlugin]
  });
}

// ---- titles ----
addText("2026/7/28 16:27:10-", 229, 42, 31);
addText("雲仙市南串山町", 839, 42, 31, { fontWeight: "bold" });
addText("震度（参考値）：4.97", 110, 1239, 27);
addText("cm/sec(gal･sec)", 1373, 104, 15);
addText("フーリエスペクトル", 1690, 90, 31);
addText("0.4Hz band smoothing", 2017, 95, 22);
addText("cm/sec", 1376, 891, 15);
addText("相対速度応答スペクトル", 1655, 877, 31);
addText("h=5%", 2184, 881, 20);

// ---- rulers ----
ruler(109, { up: false, labelDy: -24, letterDy: 23 });
ruler(1528, { up: true, labelDy: 20, letterDy: -22 });

// ---- waveforms ----
const accOpt = (name) => ({ min: -210, max: 210, grid: [210, -210], ticks: [210, 0, -210], tickText: ["210", "0", "-210"], tickSize: 19, tickGap: 14, unit: "gal", name, nameDy: -5, lw: 1, zeroWidth: 2.5 });
const velOpt = (name) => ({ min: -18, max: 18, grid: [18, -18], ticks: [18, 0, -18], tickText: ["18", "0", "-18"], tickSize: 19, tickGap: 14, unit: "cm/sec", name, nameDy: -4, lw: 1.2, zeroWidth: 0, smooth: 0.35 });
const dispOpt = (name) => ({ min: -1.5, max: 1.5, grid: [1.5, -1.5], ticks: [1.5, 0, -1.5], tickText: ["1.5", "0", "-1.5"], tickSize: 19, tickGap: 14, unit: "cm", name, nameDy: -26, lw: 1.2, zeroWidth: 0, smooth: 0.3 });

wavePanel(165, 96, trace([burst(16, 0.25, ACC_NS), burst(46, 1, ACC_NS_TAIL)]), accOpt("加速度NS"));
wavePanel(280, 96, trace([burst(16, 0.25, ACC_EW), burst(46, 1, ACC_EW_TAIL)]), accOpt("EW"));
wavePanel(394, 96, trace([burst(16, 0.25, ACC_UD), burst(46, 1, ACC_UD_TAIL)]), accOpt("UD"));
wavePanel(524, 97, trace([burst(18, 0.25, VEL_NS), burst(40, 1, VEL_NS_MID), burst(100, 2, VEL_NS_TAIL)]), velOpt("速度NS"));
wavePanel(639, 97, trace([burst(18, 0.25, VEL_EW), burst(40, 1, VEL_EW_MID), burst(100, 2, VEL_EW_TAIL)]), velOpt("EW"));
wavePanel(753, 97, trace([burst(18, 0.25, VEL_UD), burst(40, 1, VEL_UD_MID), burst(100, 2, VEL_UD_TAIL)]), velOpt("UD"));
wavePanel(906, 54, pairs(DISP_NS), dispOpt("変位NS"));
wavePanel(1020, 55, pairs(DISP_EW), dispOpt("EW"));
wavePanel(1134, 55, pairs(DISP_UD), dispOpt("UD"));
wavePanel(1255, 256, pairs(SHINDO), { min: 0, max: 7, grid: [7, 6, 5, 4, 3, 2, 1, 0], ticks: [7, 6, 5, 4, 3, 2, 1, 0], tickText: ["7", "6", "5", "4", "3", "2", "1", "0"], tickSize: 20, tickGap: 16, unit: "", name: "", nameDy: 0, lw: 3.5, zeroWidth: 0 });

// ---- spectra ----
specPanel(125, [
  { label: "NS", data: FOURIER_NS, color: RED, w: 2 },
  { label: "EW", data: FOURIER_EW, color: GREEN, w: 2 },
  { label: "UD", data: FOURIER_UD, color: BLUE, w: 2 }
], [[249, 282, 343], [384, 420, 481], [524, 558, 619]]);

specPanel(913, [
  { label: "NS", data: RESP_NS, color: RED, w: 2 },
  { label: "EW", data: RESP_EW, color: GREEN, w: 2 },
  { label: "UD", data: RESP_UD, color: BLUE, w: 2 },
  { label: "Horizon", data: RESP_H, color: "#000", w: 4 }
], [[159, 190, 252], [314, 351, 412], [477, 510, 572], [599, 670, 732]]);
</script>
</body>
</html>
